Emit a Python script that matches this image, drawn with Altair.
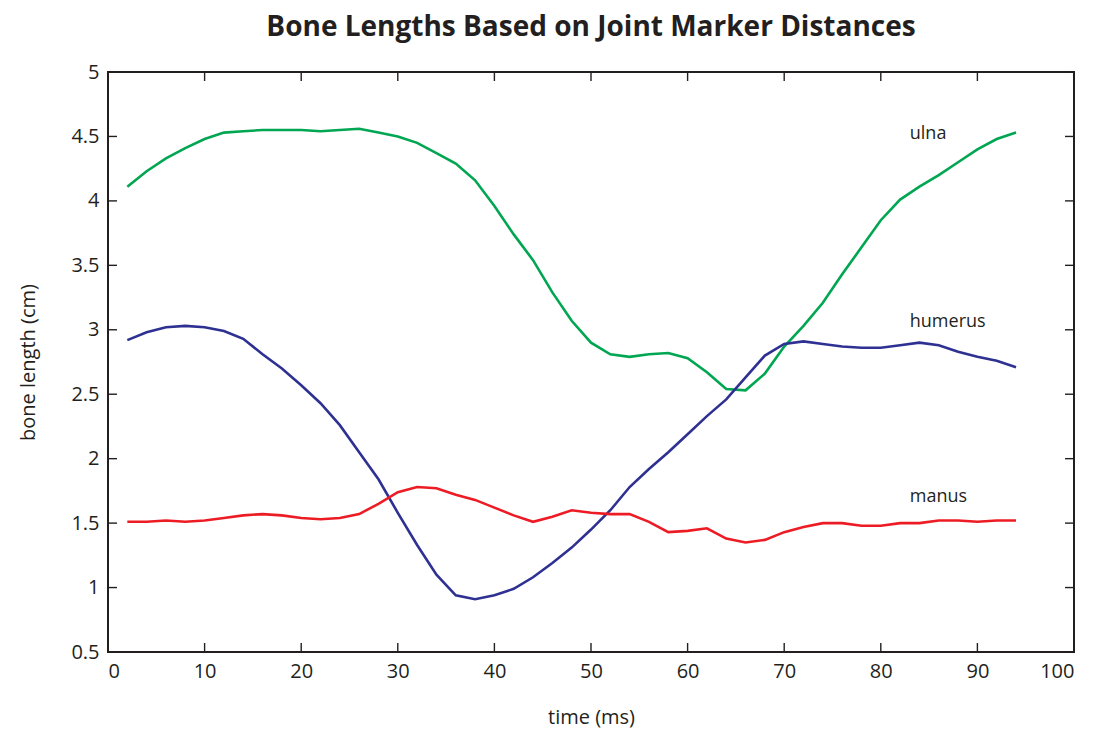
import altair as alt
import pandas as pd

time_ms = list(range(2, 96, 2))

ulna = [4.11, 4.23, 4.33, 4.41, 4.48, 4.53, 4.54, 4.55, 4.55, 4.55, 4.54, 4.55,
        4.56, 4.53, 4.50, 4.45, 4.37, 4.29, 4.16, 3.96, 3.74, 3.54, 3.29, 3.07,
        2.90, 2.81, 2.79, 2.81, 2.82, 2.78, 2.67, 2.54, 2.53, 2.66, 2.87, 3.03,
        3.21, 3.43, 3.64, 3.85, 4.01, 4.11, 4.20, 4.30, 4.40, 4.48, 4.53]

humerus = [2.92, 2.98, 3.02, 3.03, 3.02, 2.99, 2.93, 2.81, 2.70, 2.57, 2.43, 2.26,
           2.05, 1.84, 1.58, 1.33, 1.10, 0.94, 0.91, 0.94, 0.99, 1.08, 1.19, 1.31,
           1.45, 1.60, 1.78, 1.92, 2.05, 2.19, 2.33, 2.46, 2.63, 2.80, 2.89, 2.91,
           2.89, 2.87, 2.86, 2.86, 2.88, 2.90, 2.88, 2.83, 2.79, 2.76, 2.71]

manus = [1.51, 1.51, 1.52, 1.51, 1.52, 1.54, 1.56, 1.57, 1.56, 1.54, 1.53, 1.54,
         1.57, 1.65, 1.74, 1.78, 1.77, 1.72, 1.68, 1.62, 1.56, 1.51, 1.55, 1.60,
         1.58, 1.57, 1.57, 1.51, 1.43, 1.44, 1.46, 1.38, 1.35, 1.37, 1.43, 1.47,
         1.50, 1.50, 1.48, 1.48, 1.50, 1.50, 1.52, 1.52, 1.51, 1.52, 1.52]

series_names = ["ulna", "humerus", "manus"]
series_colors = ["#00A651", "#2E3192", "#ED1C24"]

label_time = [83, 83, 83]
label_value = [4.52, 3.06, 1.70]

x_ticks = list(range(0, 101, 10))
y_ticks = [0.5, 1, 1.5, 2, 2.5, 3, 3.5, 4, 4.5, 5]

W, H = 966, 580
FONT = "Open Sans"
INK = "#231F20"

rows = []
for name, vals in zip(series_names, [ulna, humerus, manus]):
    for t, v in zip(time_ms, vals):
        rows.append({"time": t, "length": v, "bone": name})
df = pd.DataFrame(rows)

labels_df = pd.DataFrame({"time": label_time, "length": label_value, "bone": series_names})
xt_df = pd.DataFrame({"t": x_ticks})
yt_df = pd.DataFrame({"v": y_ticks})

xscale = alt.Scale(domain=[0, 100], nice=False, zero=False)
yscale = alt.Scale(domain=[0.5, 5], nice=False, zero=False)

lines = alt.Chart(df).mark_line(strokeWidth=2.6).encode(
    x=alt.X("time:Q", scale=xscale,
            axis=alt.Axis(values=x_ticks, title="time (ms)", domain=False, ticks=False,
                          grid=False, labelFont=FONT, labelFontSize=20, labelColor=INK,
                          labelPadding=9, titleFont=FONT, titleFontSize=20,
                          titleFontWeight="normal", titleColor=INK, titlePadding=26)),
    y=alt.Y("length:Q", scale=yscale,
            axis=alt.Axis(values=y_ticks, title="bone length (cm)", domain=False, ticks=False,
                          grid=False, format="~g", labelFont=FONT, labelFontSize=20,
                          labelColor=INK, labelPadding=9, titleFont=FONT, titleFontSize=20,
                          titleFontWeight="normal", titleColor=INK, titlePadding=32)),
    color=alt.Color("bone:N", scale=alt.Scale(domain=series_names, range=series_colors),
                    legend=None),
    detail="bone:N",
)

texts = alt.Chart(labels_df).mark_text(align="left", baseline="middle", font=FONT,
                                       fontSize=18, color=INK).encode(
    x=alt.X("time:Q", scale=xscale),
    y=alt.Y("length:Q", scale=yscale),
    text="bone:N",
)

TL = 9
tick_style = dict(color=INK, strokeWidth=1.4)
bottom_ticks = alt.Chart(xt_df).mark_rule(**tick_style).encode(
    x=alt.X("t:Q", scale=xscale), y=alt.value(H), y2=alt.value(H - TL))
top_ticks = alt.Chart(xt_df).mark_rule(**tick_style).encode(
    x=alt.X("t:Q", scale=xscale), y=alt.value(0), y2=alt.value(TL))
left_ticks = alt.Chart(yt_df).mark_rule(**tick_style).encode(
    y=alt.Y("v:Q", scale=yscale), x=alt.value(0), x2=alt.value(TL))
right_ticks = alt.Chart(yt_df).mark_rule(**tick_style).encode(
    y=alt.Y("v:Q", scale=yscale), x=alt.value(W), x2=alt.value(W - TL))

chart = alt.layer(lines, texts, bottom_ticks, top_ticks, left_ticks, right_ticks).properties(
    width=W, height=H,
    title=alt.Title("Bone Lengths Based on Joint Marker Distances", font=FONT, fontSize=28,
                    fontWeight="bold", color=INK, anchor="middle", frame="group", offset=20),
    autosize=alt.AutoSizeParams(type="none"),
    padding={"left": 100, "top": 64, "right": 18, "bottom": 76},
    background="white",
).configure_view(stroke=INK, strokeWidth=2)

chart.save("out.html", embed_options={"renderer": "svg", "actions": False})
